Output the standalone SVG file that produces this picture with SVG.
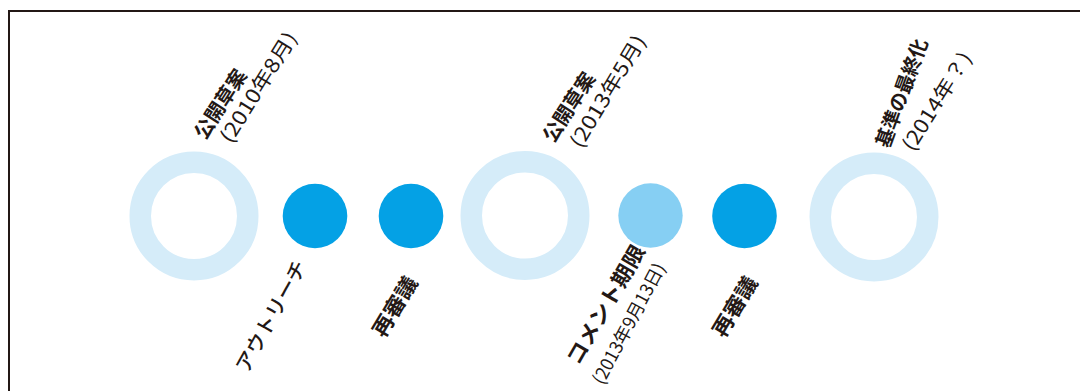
<svg xmlns="http://www.w3.org/2000/svg" width="1080" height="391" viewBox="0 0 1080 391">
<style>
.ring{fill:none;stroke:#d5ecf9;stroke-width:21.5}
.dot{fill:#04a1e5}
.dotl{fill:#86cff3}
.t{font-family:"Noto Sans CJK JP","Noto Sans",sans-serif;fill:#231815;dominant-baseline:central}
.b{font-weight:700;font-size:20px}
.l{font-weight:400;font-size:20px}
</style>
<rect width="1080" height="391" fill="#fff"/>
<path d="M9,392 V11 H1082" fill="none" stroke="#231815" stroke-width="2"/>
<g id="connectors"></g>
<g id="node-ring1"><circle class="ring" cx="194" cy="216" r="53.75"/>
<text class="t b" transform="translate(198,136) rotate(-57)" textLength="78" lengthAdjust="spacingAndGlyphs">公開草案</text>
<text class="t l" transform="translate(224,140) rotate(-58)" textLength="126" lengthAdjust="spacingAndGlyphs">(2010年8月)</text></g>
<g id="node-dot1"><circle class="dot" cx="315" cy="216" r="32.3"/>
<text class="t b" style="font-weight:500" transform="translate(240,370) rotate(-61)" textLength="124" lengthAdjust="spacingAndGlyphs">アウトリーチ</text></g>
<g id="node-dot2"><circle class="dot" cx="411" cy="216" r="32.3"/>
<text class="t b" style="font-size:21px" transform="translate(376.5,334) rotate(-59)" textLength="66" lengthAdjust="spacingAndGlyphs">再審議</text></g>
<g id="node-ring2"><circle class="ring" cx="525" cy="215.5" r="53.75"/>
<text class="t b" transform="translate(546.5,139) rotate(-57)" textLength="78" lengthAdjust="spacingAndGlyphs">公開草案</text>
<text class="t l" transform="translate(574,145) rotate(-59)" textLength="127" lengthAdjust="spacingAndGlyphs">(2013年5月)</text></g>
<g id="node-dot3"><circle class="dotl" cx="650.5" cy="215.5" r="32.2"/>
<text class="t b" style="font-size:21px" transform="translate(571,362) rotate(-60)" textLength="134" lengthAdjust="spacingAndGlyphs">コメント期限</text>
<text class="t l" style="font-size:18px" transform="translate(596,382) rotate(-62)" textLength="134" lengthAdjust="spacingAndGlyphs">(2013年9月13日)</text></g>
<g id="node-dot4"><circle class="dot" cx="744.5" cy="216" r="32.3"/>
<text class="t b" style="font-size:21px" transform="translate(716.5,334) rotate(-59)" textLength="66" lengthAdjust="spacingAndGlyphs">再審議</text></g>
<g id="node-ring3"><circle class="ring" cx="874" cy="217" r="53.75"/>
<text class="t b" transform="translate(881,146) rotate(-70)" textLength="114" lengthAdjust="spacingAndGlyphs">基準の最終化</text>
<text class="t l" transform="translate(906,148) rotate(-58)" textLength="112" lengthAdjust="spacingAndGlyphs">(2014年？)</text></g>
</svg>
